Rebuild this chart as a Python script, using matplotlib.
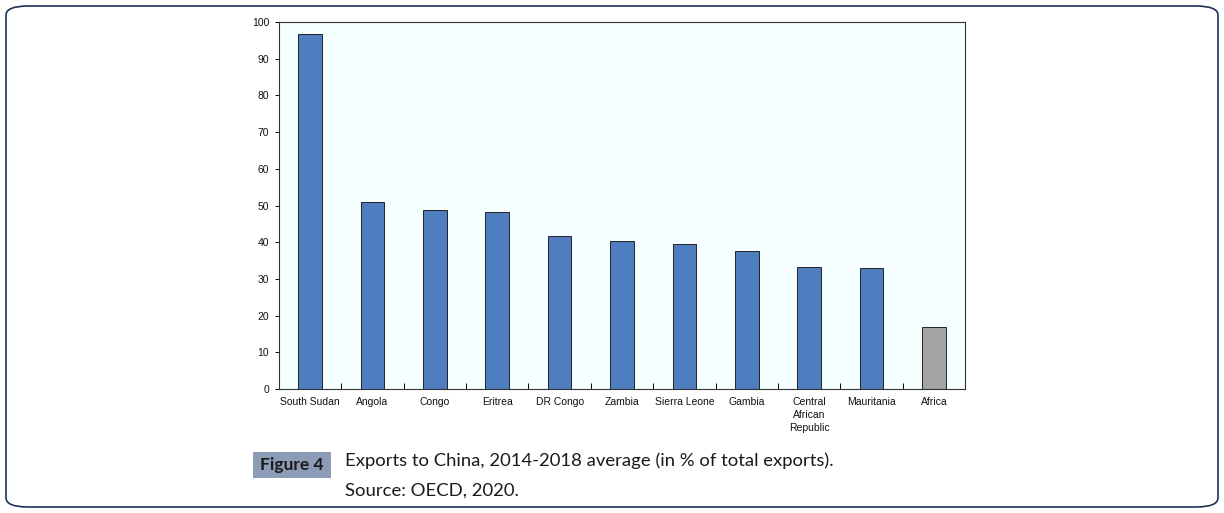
import matplotlib
matplotlib.use("Agg")
import matplotlib.pyplot as plt
from matplotlib.patches import FancyBboxPatch, Rectangle

countries = ["South Sudan", "Angola", "Congo", "Eritrea", "DR Congo", "Zambia",
             "Sierra Leone", "Gambia", "Central\nAfrican\nRepublic", "Mauritania", "Africa"]
shares = [96.7, 51.0, 48.8, 48.2, 41.8, 40.3, 39.5, 37.6, 33.2, 33.0, 16.9]
yticks = [0, 10, 20, 30, 40, 50, 60, 70, 80, 90, 100]

BLUE = "#4f7ec0"
GREY = "#a3a3a3"
colors = [BLUE] * (len(countries) - 1) + [GREY]

fig = plt.figure(figsize=(12.24, 5.13), dpi=100)

# rounded frame around the whole figure
fig.patches.append(FancyBboxPatch((6 / 1224, 6 / 513), 1212 / 1224, 501 / 513,
                                  boxstyle="round,pad=0,rounding_size=0.018",
                                  transform=fig.transFigure, fill=False,
                                  edgecolor="#1d3557", linewidth=1.2))

ax = fig.add_axes([279 / 1224, 1 - 389 / 513, 686 / 1224, 367 / 513])
ax.set_facecolor("#f5ffff")
x = list(range(len(countries)))
ax.bar(x, shares, width=0.38, color=colors, edgecolor="#222222", linewidth=0.7, zorder=2)

ax.set_xlim(-0.5, len(countries) - 0.5)
ax.set_ylim(0, 100)
ax.set_yticks(yticks)
ax.set_xticks(x)
ax.set_xticklabels(countries, linespacing=1.35)
ax.set_xticks([i + 0.5 for i in x[:-1]], minor=True)
ax.tick_params(axis="x", which="major", length=0, pad=6)
ax.tick_params(axis="x", which="minor", direction="in", length=4, width=0.7)
ax.tick_params(axis="y", direction="out", length=3, width=0.7, pad=4)
for lab in ax.get_xticklabels() + ax.get_yticklabels():
    lab.set_fontfamily(["Liberation Sans", "DejaVu Sans"])
    lab.set_fontsize(7.5)
    lab.set_color("#111111")
for s in ax.spines.values():
    s.set_linewidth(0.8)
    s.set_color("#333333")

# caption block
fig.patches.append(Rectangle((253 / 1224, 1 - 478 / 513), 78 / 1224, 26 / 513,
                             transform=fig.transFigure, facecolor="#8d9cb6",
                             edgecolor="none"))
fig.text(292 / 1224, 1 - 465 / 513, "Figure 4", ha="center", va="center",
         fontsize=12.5, fontweight="bold", color="#1a1a1a", family="Lato")
fig.text(345 / 1224, 1 - 461 / 513,
         "Exports to China, 2014-2018 average (in % of total exports).",
         ha="left", va="center", fontsize=13.3, color="#1a1a1a", family="Lato")
fig.text(345 / 1224, 1 - 491 / 513, "Source: OECD, 2020.",
         ha="left", va="center", fontsize=13.3, color="#1a1a1a", family="Lato")

fig.savefig("out.png", dpi=100)
